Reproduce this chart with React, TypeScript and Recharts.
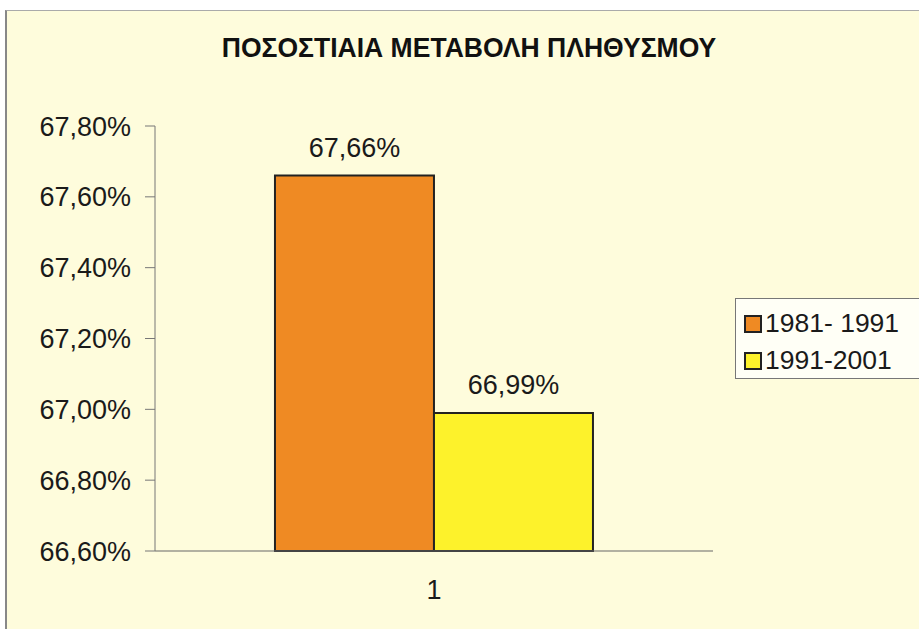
import { BarChart, Bar, XAxis, YAxis, LabelList } from 'recharts'

const categories = ['1']
const series1981 = [67.66]
const series1991 = [66.99]
const yTicks = [66.6, 66.8, 67.0, 67.2, 67.4, 67.6, 67.8]
const seriesNames = ['1981- 1991', '1991-2001']
const COLORS = ['#EF8A23', '#FDF22B']

const data = categories.map((c, i) => ({ name: c, a: series1981[i], b: series1991[i] }))

const FONT = "'Liberation Sans', Arial, sans-serif"
const pct = (v: number) => v.toFixed(2).replace('.', ',') + '%'

function LegendBox() {
    return (
        <div style={{ position: 'absolute', left: 728, top: 287, background: '#FFFFF6', border: '1px solid #777', width: 200, height: 81, boxSizing: 'border-box', padding: '6px 0 0 8px', fontFamily: FONT }}>
            {seriesNames.map((n, i) => (
                <div key={n} style={{ display: 'flex', alignItems: 'center', height: 37, fontSize: 26.5, color: '#1a1a1a' }}>
                    <span style={{ width: 14, height: 14, background: COLORS[i], border: '2px solid #222', marginRight: 3, display: 'inline-block' }} />
                    {n}
                </div>
            ))}
        </div>
    )
}

function XTick({ x, y, payload }: any) {
    return (
        <text x={x} y={y + 40} textAnchor="middle" style={{ fill: '#1a1a1a', fontSize: 27, fontFamily: FONT }}>
            {payload.value}
        </text>
    )
}

export default function App() {
    return (
        <div style={{ position: 'absolute', left: 0, top: 0, width: 919, height: 629, background: '#fff', overflow: 'hidden' }}>
            <div style={{ position: 'absolute', left: 5, top: 10, width: 914, height: 619, background: '#FEFCDC', borderLeft: '2px solid #888', borderTop: '1px solid #aaa' }}>
                <div style={{ position: 'absolute', left: 0, top: 21, width: 924, textAlign: 'center', fontFamily: FONT, fontWeight: 'bold', fontSize: 26, color: '#111', transform: 'scale(1.02, 1.08)' }}>
                    ΠΟΣΟΣΤΙΑΙΑ ΜΕΤΑΒΟΛΗ ΠΛΗΘΥΣΜΟΥ
                </div>
                <BarChart width={914} height={619} data={data} margin={{ top: 115, right: 208, left: 0, bottom: 29 }} barGap={0} barCategoryGap="21.5%">
                    <XAxis dataKey="name" height={50} tickLine={false} tick={<XTick />} stroke="#666" />
                    <YAxis
                        domain={[66.6, 67.8]}
                        ticks={yTicks}
                        width={148}
                        tickFormatter={pct}
                        stroke="#777"
                        tickSize={10}
                        tickMargin={14}
                        tick={{ fill: '#1a1a1a', fontSize: 27, fontFamily: FONT }}
                        interval={0}
                    />
                    <Bar dataKey="a" name={seriesNames[0]} fill={COLORS[0]} stroke="#222" strokeWidth={2} isAnimationActive={false}>
                        <LabelList dataKey="a" position="top" offset={19} formatter={(v: any) => pct(Number(v))} style={{ fill: '#1a1a1a', fontSize: 27, fontFamily: FONT }} />
                    </Bar>
                    <Bar dataKey="b" name={seriesNames[1]} fill={COLORS[1]} stroke="#222" strokeWidth={2} isAnimationActive={false}>
                        <LabelList dataKey="b" position="top" offset={19} formatter={(v: any) => pct(Number(v))} style={{ fill: '#1a1a1a', fontSize: 27, fontFamily: FONT }} />
                    </Bar>
                </BarChart>
                <LegendBox />
            </div>
        </div>
    )
}
